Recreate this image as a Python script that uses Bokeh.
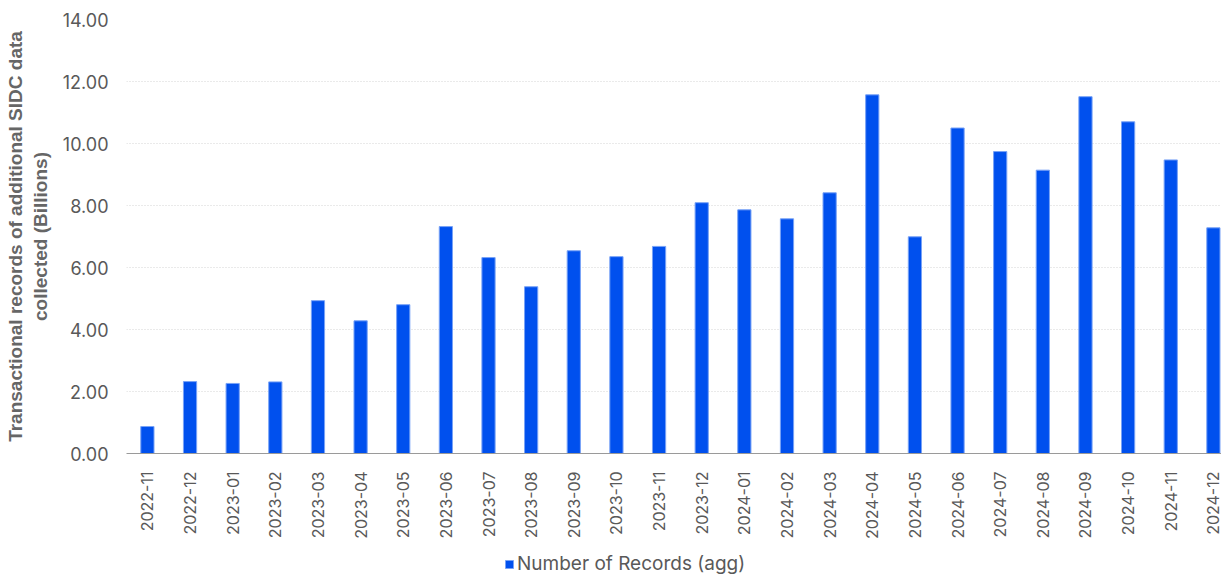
from bokeh.plotting import figure
from bokeh.layouts import column
from bokeh.models import ColumnDataSource, Range1d, FixedTicker, NumeralTickFormatter, Legend, LegendItem
from bokeh.embed import file_html
from bokeh.resources import INLINE
import math

months = [
    "2022-11", "2022-12",
    "2023-01", "2023-02", "2023-03", "2023-04", "2023-05", "2023-06",
    "2023-07", "2023-08", "2023-09", "2023-10", "2023-11", "2023-12",
    "2024-01", "2024-02", "2024-03", "2024-04", "2024-05", "2024-06",
    "2024-07", "2024-08", "2024-09", "2024-10", "2024-11", "2024-12",
]
records_billions = [
    0.87, 2.32,
    2.26, 2.31, 4.93, 4.28, 4.80, 7.32,
    6.32, 5.38, 6.54, 6.35, 6.68, 8.09,
    7.86, 7.57, 8.41, 11.57, 6.99, 10.50,
    9.74, 9.14, 11.51, 10.70, 9.47, 7.28,
]
y_ticks = [0, 2, 4, 6, 8, 10, 12, 14]
series_name = "Number of Records (agg)"
y_title = "Transactional records of additional SIDC data\ncollected (Billions)"

BAR_FILL = "#0050EE"
BAR_EDGE = "#78A2F6"

xs = list(range(len(months)))
source = ColumnDataSource(data=dict(x=xs, month=months, value=records_billions))

p = figure(
    width=1221, height=545,
    output_backend="svg", toolbar_location=None,
    x_range=Range1d(-0.49, 25.19), y_range=Range1d(0, 14),
    min_border_left=126, min_border_right=0,
    min_border_top=19, min_border_bottom=92,
)
p.outline_line_color = None
p.background_fill_color = "white"
p.border_fill_color = "white"

p.vbar(x="x", top="value", width=0.31, source=source,
       fill_color=BAR_FILL, line_color=BAR_EDGE, line_width=1)

# y axis
p.yaxis.ticker = FixedTicker(ticks=y_ticks)
p.yaxis.formatter = NumeralTickFormatter(format="0.00")
p.yaxis.axis_line_color = None
p.yaxis.major_tick_line_color = None
p.yaxis.minor_tick_line_color = None
p.yaxis.major_label_standoff = 12
p.yaxis.major_label_text_font = "Inter"
p.yaxis.major_label_text_font_size = "18px"
p.yaxis.major_label_text_color = "#595959"
p.yaxis.axis_label = y_title
p.yaxis.axis_label_text_font = "Liberation Sans"
p.yaxis.axis_label_text_font_style = "bold"
p.yaxis.axis_label_text_font_size = "19px"
p.yaxis.axis_label_text_color = "#666666"
p.yaxis.axis_label_standoff = 9

# x axis
p.xaxis.ticker = FixedTicker(ticks=xs)
p.xaxis.major_label_overrides = {i: m for i, m in zip(xs, months)}
p.xaxis.major_label_orientation = math.pi / 2
p.xaxis.axis_line_color = "#9a9a9a"
p.xaxis.axis_line_width = 1
p.xaxis.major_tick_line_color = None
p.xaxis.minor_tick_line_color = None
p.xaxis.major_label_standoff = 12
p.xaxis.major_label_text_font = "Inter"
p.xaxis.major_label_text_font_size = "16px"
p.xaxis.major_label_text_color = "#595959"

# grid
p.xgrid.grid_line_color = None
p.ygrid.grid_line_color = "#d4d4d4"
p.ygrid.grid_line_dash = "1 2"
p.ygrid.grid_line_width = 1

# legend strip under the chart; its frame lines up with the chart's frame,
# and its bar renderer lies outside the visible ranges so only the swatch shows
lg = figure(
    width=1221, height=30,
    output_backend="svg", toolbar_location=None,
    x_range=Range1d(-60, -59), y_range=Range1d(-10, -9),
    min_border=0,
)
lg.axis.visible = False
lg.grid.visible = False
lg.outline_line_color = None
lg.border_fill_color = "white"
swatch = lg.vbar(x="x", top="value", width=0.31, source=source,
                 fill_color=BAR_FILL, line_color=BAR_EDGE, line_width=1)

legend = Legend(
    items=[LegendItem(label=series_name, renderers=[swatch])],
    location=(378, 0),
    orientation="horizontal",
    border_line_color=None, background_fill_alpha=0,
    padding=0, margin=0, spacing=0,
    glyph_width=10, glyph_height=10, label_standoff=3,
    label_text_font="Inter", label_text_font_size="19px",
    label_text_color="#595959",
)
lg.add_layout(legend, "center")

open("out.html", "w").write(file_html(column(p, lg, spacing=0), INLINE))
